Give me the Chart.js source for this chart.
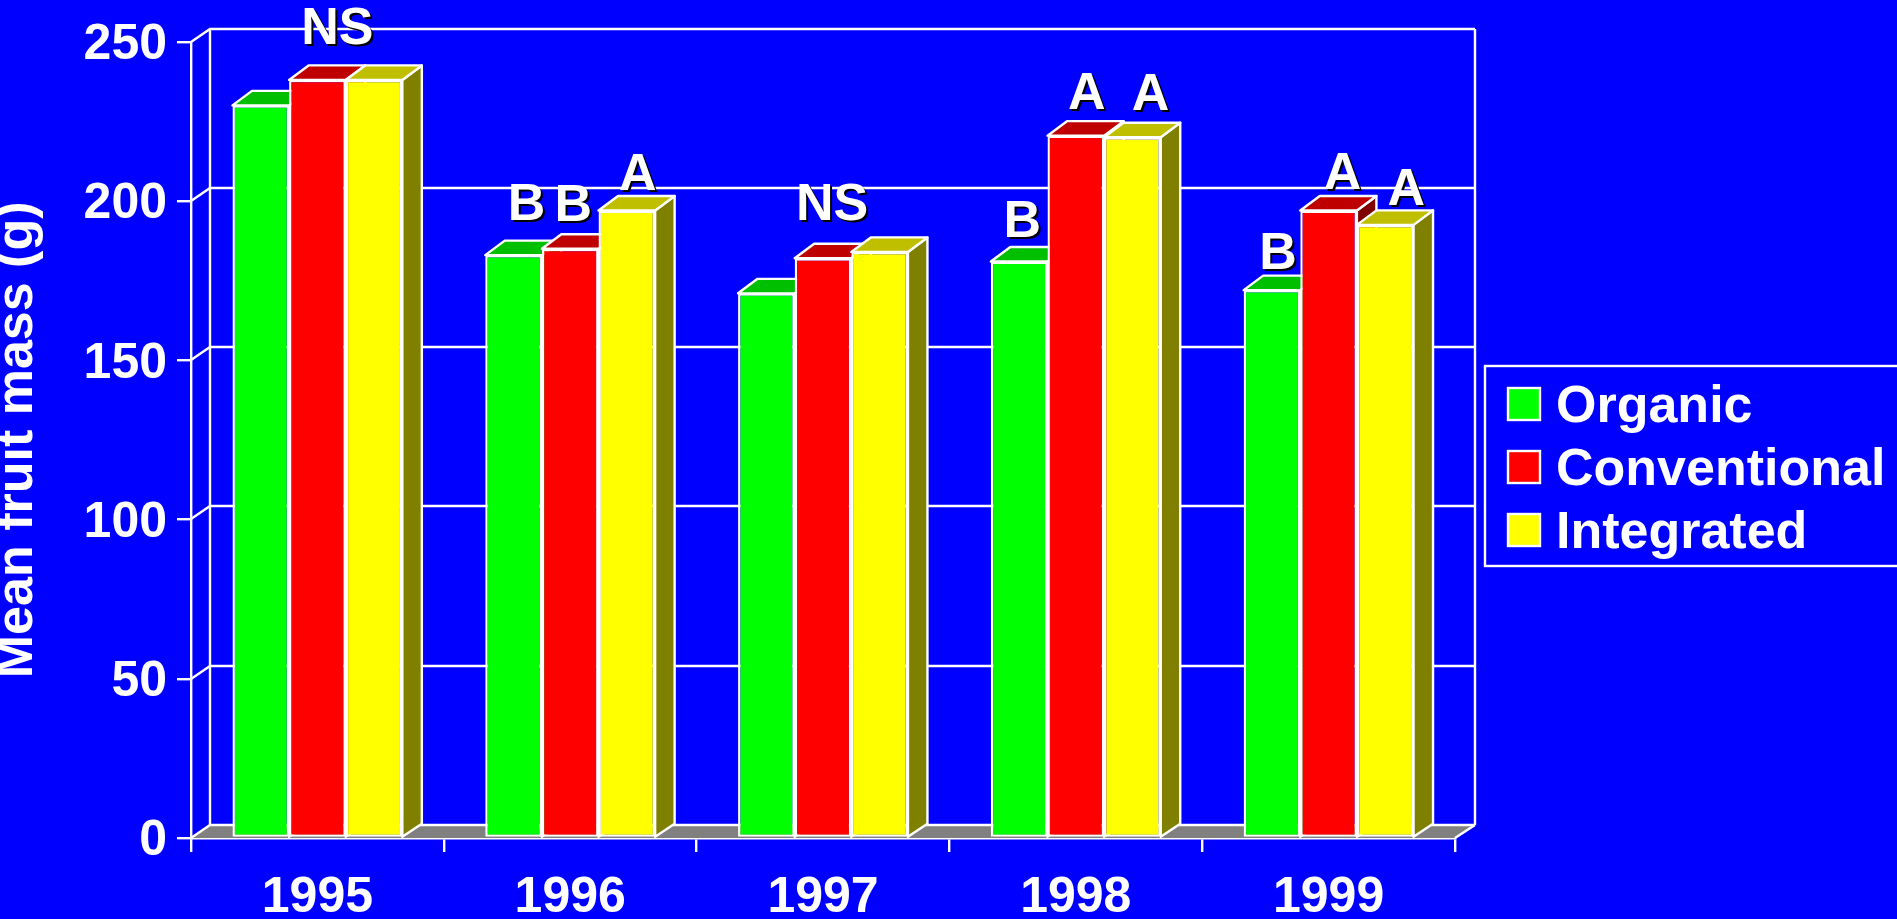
<!DOCTYPE html>
<html>
<head>
<meta charset="utf-8">
<title>Mean fruit mass</title>
<style>
html, body { margin: 0; padding: 0; background: #0000ff; overflow: hidden; }
#wrap { position: absolute; left: 0; top: 0; width: 1897px; height: 919px; }
</style>
<script src="https://cdn.jsdelivr.net/npm/chart.js@4/dist/chart.umd.min.js"></script>
</head>
<body>
<div id="wrap"><canvas id="c" width="1897" height="919"></canvas></div>
<script>
// Harvest years and per-system mean fruit mass (g)
const years = ['1995', '1996', '1997', '1998', '1999'];
const organic = [230, 183, 171, 181, 172];
const conventional = [238, 185, 182, 220.5, 197];
const integrated = [238, 197, 184, 220, 192.5];
const yTicks = [0, 50, 100, 150, 200, 250];

// Significance letters shown above the bars of each system
const organicLetters = ['', 'B', '', 'B', 'B'];
const conventionalLetters = ['NS', 'B', 'NS', 'A', 'A'];
const integratedLetters = ['', 'A', '', 'A', 'A'];

const FAMILY = '"Liberation Sans", Arial, sans-serif';
const BIG_FONT = 'bold 52px ' + FAMILY;
const WHITE = '#ffffff';
const LINE = 2.4;

// Draws the bars left to right, each with its extruded side and top faces,
// so that nearer bars cover the faces of the ones before them
const extrude = {
  id: 'extrude',
  beforeDatasetDraw() { return false; },
  afterDatasetsDraw(chart, args, opts) {
    const ctx = chart.ctx;
    chart.data.datasets.forEach((ds, i) => {
      const meta = chart.getDatasetMeta(i);
      ctx.save();
      ctx.strokeStyle = WHITE;
      ctx.lineWidth = LINE;
      ctx.lineJoin = 'round';
      meta.data.forEach((bar) => {
        const p = bar.getProps(['x', 'y', 'base', 'width'], true);
        const l = p.x - p.width / 2, r = p.x + p.width / 2;
        ctx.beginPath();
        ctx.moveTo(r, p.y);
        ctx.lineTo(r + opts.dx, p.y - opts.dyTop);
        ctx.lineTo(r + opts.dx, p.base - opts.dyBase);
        ctx.lineTo(r, p.base);
        ctx.closePath();
        ctx.fillStyle = ds.sideColor;
        ctx.fill();
        ctx.stroke();
        ctx.beginPath();
        ctx.moveTo(l, p.y);
        ctx.lineTo(l + opts.dx, p.y - opts.dyTop);
        ctx.lineTo(r + opts.dx, p.y - opts.dyTop);
        ctx.lineTo(r, p.y);
        ctx.closePath();
        ctx.fillStyle = ds.topColor;
        ctx.fill();
        ctx.stroke();
      });
      ctx.restore();
      meta.controller.draw();
    });
  }
};

// Back wall, side wall links and grey floor of the box around the bars
const walls = {
  id: 'walls',
  beforeDatasetsDraw(chart, args, opts) {
    const ctx = chart.ctx;
    const { left, right, bottom } = chart.chartArea;
    const y = chart.scales.y;
    const dx = opts.dx, dy = opts.dy, backRight = right + opts.dxRight;
    ctx.save();
    ctx.strokeStyle = WHITE;
    ctx.lineWidth = LINE;
    ctx.beginPath();
    ctx.moveTo(left, bottom);
    ctx.lineTo(left + dx, bottom - dy);
    ctx.lineTo(backRight, bottom - dy);
    ctx.lineTo(right, bottom);
    ctx.closePath();
    ctx.fillStyle = '#808080';
    ctx.fill();
    yTicks.forEach((v) => {
      const py = Math.round(y.getPixelForValue(v));
      ctx.beginPath();
      ctx.moveTo(left, py);
      ctx.lineTo(left + dx, py - dy);
      ctx.lineTo(backRight, py - dy);
      ctx.stroke();
    });
    const top = Math.round(y.getPixelForValue(250)) - dy;
    ctx.beginPath();
    ctx.moveTo(left + dx, top);
    ctx.lineTo(left + dx, bottom - dy);
    ctx.moveTo(backRight, top);
    ctx.lineTo(backRight, bottom - dy);
    ctx.moveTo(backRight, bottom - dy);
    ctx.lineTo(right, bottom);
    ctx.stroke();
    ctx.restore();
  }
};

// Shadowed significance letters, anchored to the bar they belong to
const letters = {
  id: 'letters',
  afterDatasetsDraw(chart, args, opts) {
    const ctx = chart.ctx;
    ctx.save();
    ctx.font = BIG_FONT;
    ctx.textAlign = 'center';
    ctx.textBaseline = 'alphabetic';
    chart.data.datasets.forEach((ds, i) => {
      chart.getDatasetMeta(i).data.forEach((bar, j) => {
        const text = ds.letters[j];
        if (!text) return;
        const p = bar.getProps(['x', 'y'], true);
        const x = p.x + opts.nudgeX[i][j];
        const y = p.y + opts.nudgeY[i][j];
        ctx.fillStyle = '#000000';
        ctx.fillText(text, x + 2, y + 2);
        ctx.fillStyle = WHITE;
        ctx.fillText(text, x, y);
      });
    });
    ctx.restore();
  }
};

// Boxed key running off the right edge of the page
const keyBox = {
  id: 'keyBox',
  afterDraw(chart, args, opts) {
    const ctx = chart.ctx;
    ctx.save();
    ctx.strokeStyle = WHITE;
    ctx.lineWidth = LINE;
    ctx.strokeRect(opts.left, opts.top, opts.width, opts.height);
    ctx.font = BIG_FONT;
    ctx.textAlign = 'left';
    ctx.textBaseline = 'alphabetic';
    chart.data.datasets.forEach((ds, i) => {
      const y = opts.firstY + i * opts.step;
      ctx.fillStyle = ds.backgroundColor;
      ctx.fillRect(opts.swatchX, y, opts.swatch, opts.swatch);
      ctx.strokeRect(opts.swatchX + 1, y + 1, opts.swatch - 2, opts.swatch - 2);
      ctx.fillStyle = WHITE;
      ctx.fillText(ds.label, opts.textX, y + opts.textDrop);
    });
    ctx.restore();
  }
};

new Chart(document.getElementById('c'), {
  type: 'bar',
  data: {
    labels: years,
    datasets: [
      { label: 'Organic', data: organic, letters: organicLetters,
        backgroundColor: '#00ff00', topColor: '#00bf00', sideColor: '#008000' },
      { label: 'Conventional', data: conventional, letters: conventionalLetters,
        backgroundColor: '#ff0000', topColor: '#bf0000', sideColor: '#800000' },
      { label: 'Integrated', data: integrated, letters: integratedLetters,
        backgroundColor: '#ffff00', topColor: '#bfbf00', sideColor: '#808000' }
    ]
  },
  plugins: [walls, extrude, letters, keyBox],
  options: {
    responsive: false,
    animation: false,
    layout: { padding: { top: 41.7, right: 442, left: 0, bottom: 0 } },
    datasets: {
      bar: {
        categoryPercentage: 0.672,
        barPercentage: 1,
        borderColor: WHITE,
        borderWidth: LINE,
        borderSkipped: false
      }
    },
    scales: {
      x: {
        afterFit(s) { s.height = 81; },
        grid: { color: WHITE, lineWidth: LINE, tickLength: 14, drawOnChartArea: false, offset: true },
        border: { color: WHITE, width: LINE },
        ticks: {
          color: WHITE,
          padding: 16,
          maxRotation: 0,
          autoSkip: false,
          font: { family: FAMILY, weight: 'bold', size: 50, lineHeight: 1.2 }
        }
      },
      y: {
        min: 0,
        max: 250,
        afterFit(s) { s.width = 191; },
        grid: { color: WHITE, lineWidth: LINE, tickLength: 14, drawOnChartArea: false },
        border: { color: WHITE, width: LINE },
        afterBuildTicks(s) { s.ticks = yTicks.map((value) => ({ value })); },
        ticks: {
          color: WHITE,
          padding: 10,
          labelOffset: 3.5,
          font: { family: FAMILY, weight: 'bold', size: 50, lineHeight: 1.2 }
        },
        title: {
          display: true,
          text: 'Mean fruit mass (g)',
          color: WHITE,
          padding: { top: -14, bottom: 0 },
          font: { family: FAMILY, weight: 'bold', size: 52, lineHeight: 1.2 }
        }
      }
    },
    plugins: {
      legend: { display: false },
      tooltip: { enabled: false },
      walls: { dx: 19, dy: 13, dxRight: 20 },
      extrude: { dx: 19.5, dyTop: 14.5, dyBase: 13 },
      letters: {
        nudgeX: [[0, 13, 0, 3, 6], [20, 3, 9, 11, 14], [0, 11, 0, 18, 21]],
        nudgeY: [[0, -35, 0, -24, -21], [-36, -28, -38, -27, -22], [0, -21, 0, -27, -20]]
      },
      keyBox: {
        left: 1485, top: 366, width: 440, height: 200,
        swatchX: 1507, swatch: 34, firstY: 387, step: 63,
        textX: 1556, textDrop: 35
      }
    }
  }
});
</script>
</body>
</html>
